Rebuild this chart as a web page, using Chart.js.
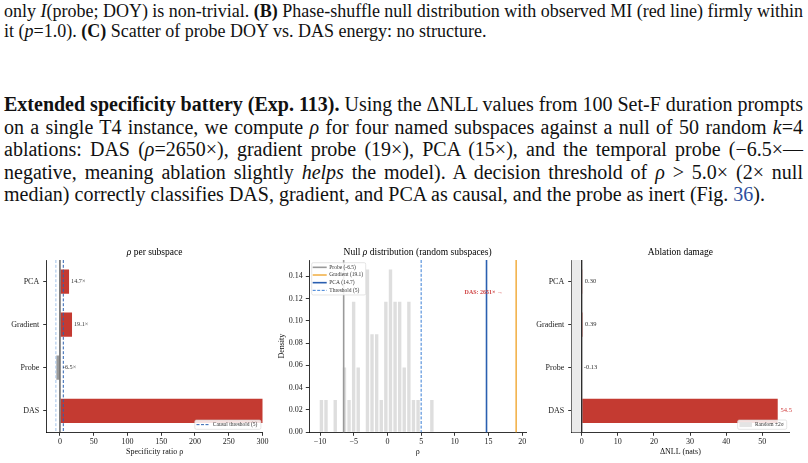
<!DOCTYPE html>
<html>
<head>
<meta charset="utf-8">
<script src="https://cdn.jsdelivr.net/npm/chart.js@4.4.1/dist/chart.umd.min.js"></script>
<style>
  html, body { margin: 0; padding: 0; background: #fff; }
  body { width: 808px; height: 463px; position: relative; overflow: hidden; font-family: 'Liberation Serif', 'DejaVu Serif', serif; color: #111; }
  .ln { position: absolute; left: 4px; white-space: nowrap; display: inline-block; line-height: 20px; }
  .cap { font-size: 18px; }
  .txt { font-size: 20px; }
  .ref { color: #2d4f9e; }
  canvas { position: absolute; top: 240px; }
</style>
</head>
<body>
<div class="ln cap fit" style="top:1.2px">only <i>I</i>(probe; DOY) is non-trivial. <b>(B)</b> Phase-shuffle null distribution with observed MI (red line) firmly within</div>
<div class="ln cap" style="top:20.6px">it (<i>p</i>=1.0). <b>(C)</b> Scatter of probe DOY vs. DAS energy: no structure.</div>

<div class="ln txt fit" style="top:94.3px"><b>Extended specificity battery (Exp. 113).</b> Using the ΔNLL values from 100 Set-F duration prompts</div>
<div class="ln txt fit" style="top:116.7px">on a single T4 instance, we compute <i>ρ</i> for four named subspaces against a null of 50 random <i>k</i>=4</div>
<div class="ln txt fit" style="top:139.1px">ablations: DAS (<i>ρ</i>=2650×), gradient probe (19×), PCA (15×), and the temporal probe (−6.5×—</div>
<div class="ln txt fit" style="top:161.5px">negative, meaning ablation slightly <i>helps</i> the model). A decision threshold of <i>ρ</i> &gt; 5.0× (2× null</div>
<div class="ln txt" style="top:183.9px">median) correctly classifies DAS, gradient, and PCA as causal, and the probe as inert (Fig. <span class="ref">36</span>).</div>

<canvas id="rho-chart" width="270" height="223" style="left:0px"></canvas>
<canvas id="null-chart" width="270" height="223" style="left:270px"></canvas>
<canvas id="nll-chart" width="278" height="223" style="left:530px"></canvas>

<script>
// Daten
const subspaces = ['PCA', 'Gradient', 'Probe', 'DAS'];
const specificityRatio = [14.7, 19.1, -6.5, 2651];
const ablationDeltaNll = [0.30, 0.39, -0.13, 54.5];
const rhoTicks = [0, 50, 100, 150, 200, 250, 300];
const nllTicks = [0, 10, 20, 30, 40, 50];
const causalThreshold = 5;
const nullLowerBound = -6;

const nullBinCenters = [-9.80, -9.12, -8.43, -7.75, -7.07, -6.38, -5.70, -5.02, -4.34, -3.65, -2.97, -2.29, -1.60,
                        -0.92, -0.24, 0.45, 1.13, 1.81, 2.49, 3.18, 3.86, 4.54, 5.23, 5.91, 6.59];
const nullDensity = [0.029, 0.029, 0, 0.029, 0, 0.058, 0.029, 0.117, 0.058, 0, 0.146, 0.088, 0.088,
                     0.029, 0.117, 0.146, 0.117, 0.117, 0.058, 0.117, 0.029, 0.029, 0, 0, 0.029];
const nullTicksX = [-10, -5, 0, 5, 10, 15, 20];
const nullTicksY = [0, 0.02, 0.04, 0.06, 0.08, 0.10, 0.12, 0.14];
const nullRefNames = ['Probe (-6.5)', 'Gradient (19.1)', 'PCA (14.7)', 'Threshold (5)'];
const nullRefValues = [-6.5, 19.1, 14.7, 5];
const dasRho = 2651;
const randomBand = [-3.0, -0.28];

const FONT = "'Liberation Serif', 'DejaVu Serif', serif";
const RED = '#c43a31';
const GREY = '#9a9a9a';

Chart.defaults.font.family = FONT;
Chart.defaults.color = '#1a1a1a';
Chart.defaults.animation = false;
Chart.defaults.plugins.legend.display = false;
Chart.defaults.plugins.tooltip.enabled = false;

// sor kiegyenlítése
function fitLines() {
    document.querySelectorAll('.fit').forEach(el => {
        el.style.wordSpacing = '0px';
        const natural = el.getBoundingClientRect().width;
        const gaps = (el.textContent.match(/ /g) || []).length;
        el.style.wordSpacing = ((799 - natural) / gaps) + 'px';
    });
}
fitLines();
if (document.fonts) document.fonts.ready.then(fitLines);

const minus = v => String(v).replace('-', '\u2212');

function axis(kind, opts) {
    const a = {
        type: opts.type || 'linear',
        offset: opts.type === 'category',
        grid: { drawOnChartArea: false, offset: false, tickLength: 3.5, tickColor: '#000', tickWidth: 0.8 },
        border: { color: '#000', width: 0.8 },
        ticks: { font: { size: 8 }, padding: opts.pad, maxRotation: 0, autoSkip: false },
        title: { display: !!opts.title, text: opts.title, color: '#111', font: { size: 8 },
                 padding: kind === 'x' ? { top: 0, bottom: 6.5 } : { top: 6.9, bottom: 0 } },
        afterFit: s => { if (kind === 'x') s.height = opts.size; else s.width = opts.size; }
    };
    if (a.type === 'linear') {
        a.min = opts.min;
        a.max = opts.max;
        a.ticks.callback = opts.fmt || (v => minus(v));
        a.afterBuildTicks = s => { s.ticks = opts.ticks.map(v => ({ value: v })); };
    }
    return a;
}

function roundRect(ctx, x, y, w, h, r) {
    ctx.beginPath();
    ctx.moveTo(x + r, y);
    ctx.arcTo(x + w, y, x + w, y + h, r);
    ctx.arcTo(x + w, y + h, x, y + h, r);
    ctx.arcTo(x, y + h, x, y, r);
    ctx.arcTo(x, y, x + w, y, r);
    ctx.closePath();
}

// díszítő plugin: cím, referencia vonalak, feliratok, jelmagyarázat
function panel(cfg) {
    return {
        id: 'panel',
        beforeDatasetsDraw(chart) {
            const { ctx, chartArea: a, scales: { x } } = chart;
            (cfg.bands || []).forEach(b => {
                const x0 = Math.max(x.getPixelForValue(b.from), a.left);
                const x1 = x.getPixelForValue(b.to);
                ctx.save();
                ctx.fillStyle = b.color;
                ctx.fillRect(x0, a.top, x1 - x0, a.bottom - a.top);
                ctx.restore();
            });
        },
        afterDatasetsDraw(chart) {
            const { ctx, chartArea: a, scales: { x } } = chart;
            ctx.save();
            (cfg.lines || []).forEach(l => {
                const px = x.getPixelForValue(l.value);
                ctx.beginPath();
                ctx.strokeStyle = l.color;
                ctx.lineWidth = l.width;
                ctx.setLineDash(l.dash || []);
                ctx.moveTo(px, a.top);
                ctx.lineTo(px, a.bottom);
                ctx.stroke();
            });
            ctx.restore();

            if (cfg.values) {
                const v = cfg.values;
                const meta = chart.getDatasetMeta(0);
                const data = chart.data.datasets[0].data;
                ctx.save();
                ctx.font = `${v.size}px ${FONT}`;
                ctx.textBaseline = 'middle';
                ctx.textAlign = 'left';
                meta.data.forEach((bar, i) => {
                    const end = Math.max(bar.x, bar.base);
                    const px = end + (data[i] < 0 ? v.negGap : v.gap);
                    if (px > a.right) return;
                    ctx.fillStyle = v.colors[i];
                    ctx.fillText(v.format(data[i]), px, bar.y);
                });
                ctx.restore();
            }
        },
        afterDraw(chart) {
            const { ctx, chartArea: a, scales } = chart;
            ctx.save();
            // cím
            if (cfg.title) {
                ctx.font = `9.5px ${FONT}`;
                ctx.fillStyle = '#000';
                ctx.textBaseline = 'alphabetic';
                const parts = cfg.title.map(([t, it]) => {
                    ctx.font = `${it ? 'italic ' : ''}9.5px ${FONT}`;
                    return { t, it, w: ctx.measureText(t).width };
                });
                const total = parts.reduce((s, p) => s + p.w, 0);
                let px = (a.left + a.right) / 2 - total / 2;
                parts.forEach(p => {
                    ctx.font = `${p.it ? 'italic ' : ''}9.5px ${FONT}`;
                    ctx.fillText(p.t, px, a.top - 5.3);
                    px += p.w;
                });
            }
            // szöveges megjegyzések
            (cfg.notes || []).forEach(n => {
                ctx.font = `${n.bold ? 'bold ' : ''}${n.size}px ${FONT}`;
                ctx.fillStyle = n.color;
                ctx.textAlign = 'center';
                ctx.textBaseline = 'middle';
                ctx.fillText(n.text, scales.x.getPixelForValue(n.x), scales.y.getPixelForValue(n.y));
            });
            // jelmagyarázat
            if (cfg.legend) {
                const lg = cfg.legend;
                ctx.font = `${lg.size}px ${FONT}`;
                ctx.textAlign = 'left';
                ctx.textBaseline = 'middle';
                const tw = Math.max(...lg.items.map(it => ctx.measureText(it.text).width));
                const w = lg.padL + lg.sampleW + lg.gap + tw + lg.padR;
                const h = lg.rowH * lg.items.length + lg.padY * 2;
                const x0 = lg.corner[1] === 'r' ? a.right - lg.dx - w : a.left + lg.dx;
                const y0 = lg.corner[0] === 'b' ? a.bottom - lg.dy - h : a.top + lg.dy;
                roundRect(ctx, x0, y0, w, h, 1.5);
                ctx.fillStyle = 'rgba(255,255,255,0.85)';
                ctx.fill();
                ctx.strokeStyle = '#d4d4d4';
                ctx.lineWidth = 0.6;
                ctx.stroke();
                lg.items.forEach((it, i) => {
                    const cy = y0 + lg.padY + lg.rowH * (i + 0.5);
                    const sx = x0 + lg.padL;
                    if (it.kind === 'patch') {
                        ctx.fillStyle = it.color;
                        ctx.fillRect(sx, cy - 2.4, lg.sampleW, 4.8);
                    } else {
                        ctx.beginPath();
                        ctx.strokeStyle = it.color;
                        ctx.lineWidth = it.width;
                        ctx.setLineDash(it.dash || []);
                        ctx.moveTo(sx, cy);
                        ctx.lineTo(sx + lg.sampleW, cy);
                        ctx.stroke();
                        ctx.setLineDash([]);
                    }
                    ctx.fillStyle = '#333';
                    ctx.fillText(it.text, sx + lg.sampleW + lg.gap, cy);
                });
            }
            ctx.restore();
        }
    };
}

const subspaceColors = subspaces.map(s => (s === 'Probe' ? GREY : RED));

// (1) rho per subspace
new Chart(document.getElementById('rho-chart'), {
    type: 'bar',
    data: {
        labels: subspaces,
        datasets: [{
            data: specificityRatio,
            backgroundColor: subspaceColors,
            borderColor: 'rgba(255,255,255,0.35)',
            borderWidth: 0.8,
            barPercentage: 0.6,
            categoryPercentage: 1,
            clip: 0
        }]
    },
    options: {
        indexAxis: 'y',
        responsive: false,
        devicePixelRatio: 1,
        layout: { padding: { top: 20, right: 6.7, bottom: 0, left: 0 } },
        scales: {
            x: axis('x', { min: -19.6, max: 300, ticks: rhoTicks, size: 30.7, pad: 1.5, title: 'Specificity ratio \u03c1' }),
            y: axis('y', { type: 'category', size: 46.7, pad: 4 })
        }
    },
    plugins: [panel({
        title: [['\u03c1', true], [' per subspace', false]],
        lines: [
            { value: nullLowerBound, color: '#a3c2e8', width: 1, dash: [3, 1.8] },
            { value: 0, color: '#555', width: 1.4 },
            { value: causalThreshold, color: '#2d62b0', width: 1, dash: [3, 1.8] }
        ],
        values: { size: 6.2, gap: 1.2, negGap: 3.4, colors: subspaces.map(() => '#333'),
                  format: v => v.toFixed(1) + '\u00d7' },
        legend: { corner: 'br', dx: 1.6, dy: 3, size: 5.5, rowH: 7.5, padY: 0.9, padL: 1.7, sampleW: 13.3, gap: 3, padR: 3.5,
                  items: [{ text: `Causal threshold (${causalThreshold})`, color: '#2d62b0', width: 1, dash: [3, 1.5] }] }
    })]
});

// (2) null distribution
new Chart(document.getElementById('null-chart'), {
    type: 'bar',
    data: {
        datasets: [{
            data: nullBinCenters.map((x, i) => ({ x, y: nullDensity[i] })),
            backgroundColor: '#dedede',
            barPercentage: 0.74,
            categoryPercentage: 1
        }]
    },
    options: {
        responsive: false,
        devicePixelRatio: 1,
        layout: { padding: { top: 20, right: 14, bottom: 0, left: 0 } },
        scales: {
            x: axis('x', { min: -11.6, max: 20.56, ticks: nullTicksX, size: 30.7, pad: 1.5, title: '\u03c1' }),
            y: axis('y', { min: 0, max: 0.1545, ticks: nullTicksY, size: 39.3, pad: 3, title: 'Density',
                           fmt: v => v.toFixed(2) })
        }
    },
    plugins: [panel({
        title: [['Null ', false], ['\u03c1', true], [' distribution (random subspaces)', false]],
        lines: [
            { value: nullRefValues[0], color: GREY, width: 1.6 },
            { value: nullRefValues[1], color: '#f2b24c', width: 1.6 },
            { value: nullRefValues[2], color: '#2a5fb0', width: 1.6 },
            { value: nullRefValues[3], color: '#3a7fd6', width: 1, dash: [3, 1.6] }
        ],
        notes: [{ text: `DAS: ${dasRho}\u00d7 \u2192`, x: 14.3, y: 0.125, color: '#d04545', size: 6, bold: true }],
        legend: { corner: 'tl', dx: 2.4, dy: 2.7, size: 5.5, rowH: 7.67, padY: 0.8, padL: 1, sampleW: 14, gap: 2.6, padR: 2.5,
                  items: [
                      { text: nullRefNames[0], color: GREY, width: 1.6 },
                      { text: nullRefNames[1], color: '#f2b24c', width: 1.6 },
                      { text: nullRefNames[2], color: '#2a5fb0', width: 1.6 },
                      { text: nullRefNames[3], color: '#3a7fd6', width: 1, dash: [3, 1.5] }
                  ] }
    })]
});

// (3) ablation damage
new Chart(document.getElementById('nll-chart'), {
    type: 'bar',
    data: {
        labels: subspaces,
        datasets: [{
            data: ablationDeltaNll,
            backgroundColor: subspaceColors,
            borderColor: 'rgba(255,255,255,0.35)',
            borderWidth: 0.8,
            barPercentage: 0.6,
            categoryPercentage: 1,
            clip: 0
        }]
    },
    options: {
        indexAxis: 'y',
        responsive: false,
        devicePixelRatio: 1,
        layout: { padding: { top: 20, right: 19, bottom: 0, left: 0 } },
        scales: {
            x: axis('x', { min: -2.77, max: 57.4, ticks: nllTicks, size: 30.7, pad: 1.5, title: '\u0394NLL (nats)' }),
            y: axis('y', { type: 'category', size: 41.7, pad: 4 })
        }
    },
    plugins: [panel({
        title: [['Ablation damage', false]],
        bands: [{ from: randomBand[0], to: randomBand[1], color: '#ebebeb' }],
        lines: [{ value: 0, color: '#222', width: 1.3 }],
        values: { size: 6.5, gap: 2, negGap: 2.6, colors: subspaces.map(s => (s === 'DAS' ? '#d03c3c' : '#333')),
                  format: v => (Math.abs(v) >= 10 ? v.toFixed(1) : v.toFixed(2)) },
        legend: { corner: 'br', dx: 2.3, dy: 3, size: 5.5, rowH: 7.5, padY: 0.9, padL: 1.8, sampleW: 12.5, gap: 3, padR: 3,
                  items: [{ text: 'Random \u00b12\u03c3', kind: 'patch', color: '#e4e4e4' }] }
    })]
});
</script>
</body>
</html>
